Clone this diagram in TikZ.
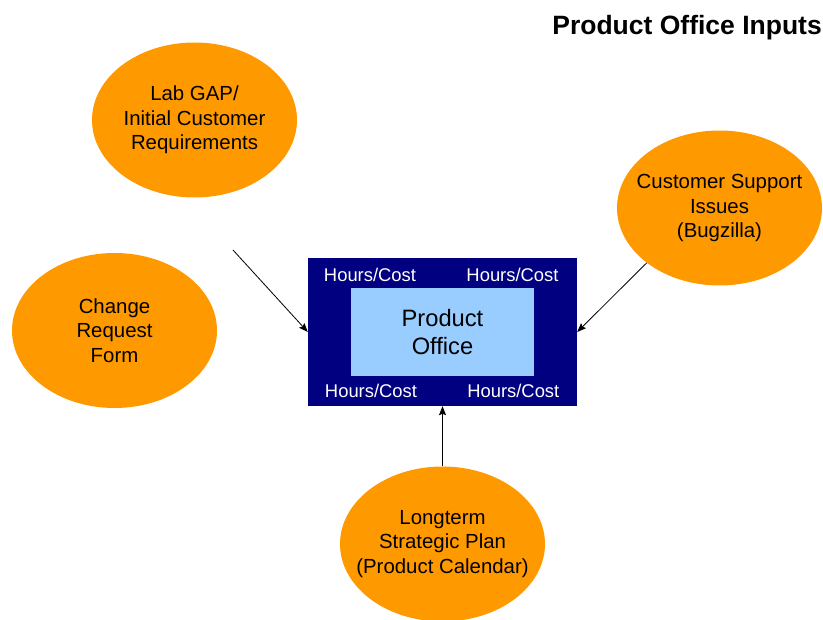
\documentclass[tikz,border=0pt]{standalone}
\usepackage{fontspec}
\setmainfont{Liberation Sans}
\usetikzlibrary{shapes.geometric,arrows.meta}
\definecolor{bubblefill}{HTML}{FF9900}
\definecolor{officenavy}{HTML}{000080}
\definecolor{officesky}{HTML}{99CCFF}

\begin{document}
\begin{tikzpicture}[x=1pt,y=-1pt,
  bubble/.style={ellipse, fill=bubblefill, minimum width=205pt, minimum height=155pt,
    inner xsep=-40pt, inner ysep=0pt, align=center,
    font=\fontsize{20.4}{24.5}\selectfont},
  cost/.style={text=white, font=\fontsize{18.4}{22}\selectfont, inner sep=0pt, anchor=base},
  feed/.style={draw=black, line width=0.8pt, -{Stealth[length=9pt,width=7pt,inset=1.5pt]}}]

\useasboundingbox (0,0) rectangle (823,620);

% title
\node (title) [anchor=base east, inner sep=0pt, font=\fontsize{26.5}{30}\selectfont\bfseries]
  at (822,35) {Product Office Inputs};

% central office block
\node (office) [rectangle, fill=officenavy, minimum width=269pt, minimum height=148pt, inner sep=0pt]
  at (442.5,332) {};
\node (core) [rectangle, fill=officesky, minimum width=183pt, minimum height=88pt, inner sep=0pt,
  align=center, font=\fontsize{23.7}{28.4}\selectfont] at (442.5,332) {Product\\Office};

\node (costTL) [cost] at (370,281.7) {Hours/Cost};
\node (costTR) [cost] at (512.5,281.7) {Hours/Cost};
\node (costBL) [cost] at (371,397.7) {Hours/Cost};
\node (costBR) [cost] at (513.3,397.7) {Hours/Cost};

% input sources
\node (gap) [bubble] at (194.5,120) {Lab GAP/\\Initial Customer\\Requirements};
\node (change) [bubble] at (114.5,330.5) {Change\\Request\\Form};
\node (support) [bubble] at (719.5,208) {Customer Support\\Issues\\(Bugzilla)};
\node (plan) [bubble] at (442.5,544) {Longterm\\Strategic Plan\\(Product Calendar)};

% connectors
\coordinate (gapend) at (233,250);
\draw[feed] (gapend) -- (office.west);
\draw[feed] (support.217.6) -- (office.east);
\draw[feed] (plan.north) -- (office.south);
\end{tikzpicture}
\end{document}
